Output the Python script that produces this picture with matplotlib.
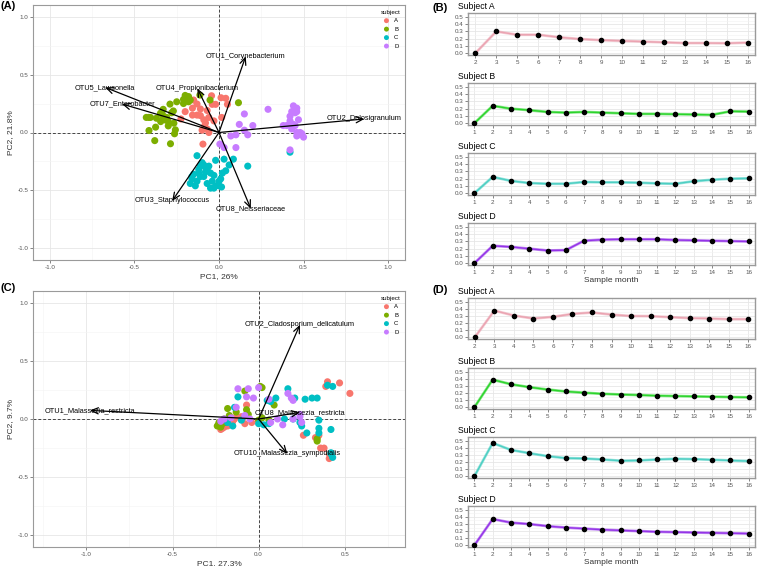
import matplotlib
matplotlib.use("Agg")
import matplotlib.pyplot as plt
from matplotlib.ticker import MultipleLocator
import numpy as np

plt.rcParams.update({
    "font.family": ["Liberation Sans", "DejaVu Sans"],
    "axes.linewidth": 0.8,
    "axes.edgecolor": "#9a9a9a",
    "xtick.color": "#555555",
    "ytick.color": "#555555",
    "xtick.labelcolor": "#555555",
    "ytick.labelcolor": "#555555",
})

W, H = 758, 566
SUBJECTS = ["A", "B", "C", "D"]
PT_COLORS = {"A": "#F8766D", "B": "#7CAE00", "C": "#00BFC4", "D": "#C77CFF"}
LINE_COLORS = {"A": "#EBA3B1", "B": "#2BD42B", "C": "#4CCFC3", "D": "#9433E8"}

# ---- panel A: bacterial PCA ----
bac_A = [(-0.044, 0.317), (0.012, 0.30), (0.04, 0.295), (0.05, 0.243), (-0.02, 0.243),
         (-0.04, 0.243), (-0.11, 0.203), (-0.13, 0.246), (-0.07, 0.19), (-0.157, 0.21),
         (-0.157, 0.15), (-0.2, 0.18), (-0.225, 0.117), (-0.11, 0.146), (-0.06, 0.13),
         (-0.09, 0.11), (-0.08, 0.083), (0.016, 0.13), (-0.10, 0.02), (-0.06, 0.0),
         (-0.095, -0.10), (-0.03, 0.10), (-0.15, 0.28), (-0.07, 0.03), (-0.085, 0.057),
         (-0.13, 0.15)]
bac_B = [(-0.29, 0.245), (-0.25, 0.265), (-0.21, 0.285), (-0.20, 0.32), (-0.18, 0.265),
         (-0.27, 0.186), (-0.33, 0.137), (-0.31, 0.13), (-0.335, 0.157), (-0.37, 0.123),
         (-0.405, 0.13), (-0.415, 0.13), (-0.345, 0.094), (-0.375, 0.046), (-0.414, 0.017),
         (-0.30, 0.057), (-0.258, 0.023), (-0.263, -0.011), (-0.287, -0.097), (-0.38, -0.07),
         (-0.30, 0.094), (-0.113, 0.323), (-0.053, 0.28), (0.115, 0.257), (-0.33, 0.20),
         (-0.21, 0.25), (-0.18, 0.31), (-0.17, 0.28), (-0.346, 0.166), (-0.32, 0.109),
         (-0.267, 0.08), (-0.28, 0.17), (-0.43, 0.13)]
bac_C = [(-0.13, -0.20), (-0.10, -0.26), (-0.09, -0.28), (-0.08, -0.30), (-0.07, -0.32),
         (-0.05, -0.35), (-0.12, -0.32), (-0.15, -0.36), (-0.16, -0.40), (-0.17, -0.44),
         (-0.14, -0.46), (-0.12, -0.35), (-0.11, -0.38), (-0.08, -0.34), (-0.09, -0.38),
         (0.0, -0.42), (0.01, -0.40), (-0.05, -0.48), (-0.03, -0.48), (-0.02, -0.46),
         (-0.04, -0.42), (-0.03, -0.37), (0.02, -0.35), (0.04, -0.33), (0.06, -0.28),
         (0.03, -0.23), (0.085, -0.23), (0.17, -0.29), (0.42, -0.17), (-0.02, -0.24),
         (-0.11, -0.29), (-0.06, -0.29), (-0.13, -0.42), (-0.16, -0.38), (0.0, -0.46),
         (-0.07, -0.44), (0.015, -0.47)]
bac_D = [(0.15, 0.16), (0.12, 0.07), (0.15, 0.02), (0.20, 0.06), (0.10, -0.02),
         (0.17, -0.02), (0.29, 0.20), (0.38, 0.06), (0.40, 0.06), (0.42, 0.10),
         (0.42, 0.14), (0.43, 0.18), (0.44, 0.23), (0.46, 0.21), (0.46, 0.18),
         (0.47, 0.11), (0.44, 0.07), (0.45, 0.06), (0.46, 0.0), (0.47, -0.02),
         (0.48, 0.0), (0.49, -0.01), (0.50, -0.04), (0.46, -0.03), (0.43, 0.03),
         (0.42, -0.15), (0.005, -0.10), (0.10, -0.13), (0.03, -0.13), (0.45, 0.17),
         (0.07, -0.03)]
bac_arrows = ["OTU1_Corynebacterium", "OTU2_Dolosigranulum", "OTU3_Staphylococcus",
              "OTU4_Propionibacterium", "OTU5_Lawsonella", "OTU7_Enterobacter",
              "OTU8_Neisseriaceae"]
bac_arrow_x = [0.158, 0.86, -0.277, -0.128, -0.673, -0.574, 0.188]
bac_arrow_y = [0.657, 0.117, -0.59, 0.38, 0.389, 0.246, -0.657]

# ---- panel C: fungal PCA ----
fun_A = [(0.40, 0.32), (0.39, 0.28), (0.47, 0.31), (0.53, 0.22), (0.26, -0.14),
         (0.33, -0.16), (0.35, -0.14), (0.36, -0.25), (0.38, -0.25), (0.41, -0.34),
         (0.42, -0.32), (0.41, -0.30), (-0.07, 0.12), (-0.10, 0.02), (-0.13, 0.02),
         (-0.15, -0.02), (-0.17, -0.04), (-0.21, -0.08), (-0.22, -0.06), (-0.20, -0.07),
         (-0.18, -0.06), (-0.08, -0.04), (-0.04, -0.03), (0.0, -0.02), (-0.23, -0.05),
         (-0.22, -0.09), (-0.19, -0.04), (-0.14, 0.0)]
fun_B = [(-0.08, 0.24), (0.01, 0.28), (0.02, 0.27), (-0.18, 0.09), (0.09, 0.12),
         (-0.07, 0.08), (-0.06, 0.04), (0.06, -0.01), (0.02, 0.01), (-0.22, -0.06),
         (-0.23, -0.03), (-0.24, -0.06), (-0.21, -0.02), (-0.20, 0.0), (-0.21, -0.04),
         (-0.19, -0.03), (0.34, -0.19), (0.34, -0.17), (-0.17, 0.03), (-0.22, -0.07),
         (-0.23, -0.04), (0.0, -0.01), (-0.13, 0.06)]
fun_C = [(-0.12, 0.19), (-0.14, 0.10), (0.17, 0.26), (0.10, 0.18), (0.05, 0.16),
         (0.07, 0.15), (0.21, 0.18), (0.27, 0.17), (0.31, 0.18), (0.34, 0.18),
         (0.40, 0.29), (0.43, 0.28), (0.15, 0.0), (0.20, 0.0), (0.24, -0.03),
         (0.25, -0.06), (0.28, -0.12), (0.35, -0.01), (0.35, -0.08), (0.42, -0.09),
         (0.42, -0.30), (0.43, -0.33), (0.42, -0.29), (0.06, -0.04), (0.03, -0.05),
         (-0.15, -0.06), (-0.10, -0.01), (-0.18, -0.03), (0.0, -0.04), (0.35, -0.12)]
fun_D = [(-0.06, 0.26), (0.0, 0.27), (-0.12, 0.26), (-0.07, 0.19), (-0.03, 0.18),
         (-0.13, 0.10), (-0.08, 0.03), (-0.20, 0.0), (-0.16, 0.01), (-0.05, 0.0),
         (0.17, 0.22), (0.19, 0.18), (0.20, 0.16), (0.24, 0.04), (0.24, 0.02),
         (0.25, -0.03), (0.14, -0.05), (0.07, -0.03), (0.11, 0.0), (0.20, 0.0),
         (-0.22, -0.02), (0.06, 0.17)]
fun_arrows = ["OTU1_Malassezia_restricta", "OTU2_Cladosporium_delicatulum",
              "OTU8_Malassezia_restricta", "OTU10_Malassezia_sympodialis"]
fun_arrow_x = [-0.98, 0.24, 0.24, 0.167]
fun_arrow_y = [0.074, 0.81, 0.057, -0.30]

# ---- panels B and D: values by sample month ----
months_full = [str(m) for m in range(1, 17)]
bac_months = {"A": ["2", "3"] + [str(m) for m in range(5, 17)],
              "B": months_full, "C": months_full, "D": months_full}
bac_vals = {
    "A": [0.0, 0.30, 0.255, 0.255, 0.22, 0.195, 0.18, 0.17, 0.16, 0.15, 0.14, 0.14, 0.137, 0.146],
    "B": [0.0, 0.24, 0.20, 0.18, 0.155, 0.146, 0.155, 0.146, 0.137, 0.128, 0.128, 0.124,
          0.12, 0.115, 0.164, 0.16],
    "C": [0.0, 0.225, 0.17, 0.14, 0.13, 0.13, 0.155, 0.15, 0.15, 0.145, 0.135, 0.13,
          0.165, 0.185, 0.20, 0.205],
    "D": [0.0, 0.24, 0.225, 0.2, 0.175, 0.18, 0.31, 0.325, 0.33, 0.33, 0.33, 0.32,
          0.315, 0.31, 0.305, 0.30],
}
fun_months = {"A": [str(m) for m in range(2, 17)],
              "B": months_full, "C": months_full, "D": months_full}
fun_vals = {
    "A": [0.0, 0.377, 0.307, 0.265, 0.288, 0.33, 0.35, 0.32, 0.30, 0.298, 0.284, 0.27,
          0.265, 0.256, 0.256],
    "B": [0.0, 0.39, 0.325, 0.284, 0.25, 0.223, 0.205, 0.19, 0.18, 0.172, 0.163, 0.158,
          0.153, 0.149, 0.144, 0.14],
    "C": [0.0, 0.47, 0.372, 0.326, 0.284, 0.256, 0.251, 0.237, 0.219, 0.223, 0.237, 0.246,
          0.242, 0.233, 0.223, 0.214],
    "D": [0.0, 0.37, 0.32, 0.30, 0.27, 0.25, 0.235, 0.22, 0.21, 0.20, 0.19, 0.185,
          0.18, 0.175, 0.17, 0.165],
}


def px_axes(fig, left, top, right, bottom):
    return fig.add_axes([left / W, 1 - bottom / H, (right - left) / W, (bottom - top) / H])


def plot_pca(ax, groups, names, ax_x, ax_y, xlim, xlab, ylab):
    for s, pts in zip(SUBJECTS, groups):
        xy = np.array(pts)
        ax.scatter(xy[:, 0], xy[:, 1], s=26, color=PT_COLORS[s], label=s,
                   edgecolors="none", zorder=3)
    ax.axhline(0, color="#444444", linestyle=(0, (3, 2)), linewidth=0.7, zorder=2)
    ax.axvline(0, color="#444444", linestyle=(0, (3, 2)), linewidth=0.7, zorder=2)
    for name, x, y in zip(names, ax_x, ax_y):
        ax.annotate("", xy=(x, y), xytext=(0, 0),
                    arrowprops=dict(arrowstyle="->,head_length=0.5,head_width=0.22",
                                    color="black", linewidth=0.9, shrinkA=0, shrinkB=0),
                    zorder=4)
        ax.text(x, y, name, fontsize=5.3, ha="center", va="center", zorder=5)
    ax.set_xlim(*xlim)
    ax.set_ylim(-1.1, 1.1)
    ax.xaxis.set_major_locator(MultipleLocator(0.5))
    ax.yaxis.set_major_locator(MultipleLocator(0.5))
    ax.xaxis.set_minor_locator(MultipleLocator(0.25))
    ax.yaxis.set_minor_locator(MultipleLocator(0.25))
    ax.xaxis.set_major_formatter(lambda v, p: f"{v:.1f}")
    ax.yaxis.set_major_formatter(lambda v, p: f"{v:.1f}")
    ax.grid(which="major", color="#e6e6e6", linewidth=0.6, zorder=0)
    ax.grid(which="minor", color="#f3f3f3", linewidth=0.4, zorder=0)
    ax.set_axisbelow(True)
    ax.tick_params(which="both", length=2, width=0.5, labelsize=4.5, pad=1.5)
    ax.tick_params(which="minor", length=0)
    ax.set_xlabel(xlab, fontsize=6, color="#333333", labelpad=2)
    ax.set_ylabel(ylab, fontsize=6, color="#333333", labelpad=2)
    leg = ax.legend(loc="upper right", title="subject", frameon=False, fontsize=4.3,
                    title_fontsize=4.5, handletextpad=0.3, borderaxespad=0.4,
                    labelspacing=0.55, markerscale=0.7)
    leg._legend_box.align = "left"


def plot_series(ax, s, months, vals, title, last):
    x = np.arange(len(months))
    ax.plot(x, vals, color=LINE_COLORS[s], linewidth=2.0, alpha=0.55, zorder=2)
    ax.plot(x, vals, color=LINE_COLORS[s], linewidth=1.0, zorder=3)
    ax.scatter(x, vals, s=9, color="black", zorder=4)
    ax.set_xlim(-0.35, len(months) - 1 + 0.35)
    ax.set_ylim(-0.025, 0.555)
    ax.set_xticks(x)
    ax.set_xticklabels(months)
    ax.yaxis.set_major_locator(MultipleLocator(0.1))
    ax.yaxis.set_minor_locator(MultipleLocator(0.05))
    ax.yaxis.set_major_formatter(lambda v, p: f"{v:.1f}")
    ax.grid(which="major", color="#e6e6e6", linewidth=0.6, zorder=0)
    ax.grid(which="minor", axis="y", color="#f2f2f2", linewidth=0.4, zorder=0)
    ax.set_axisbelow(True)
    ax.tick_params(which="both", length=2, width=0.5, labelsize=4.5, pad=1.5)
    ax.tick_params(which="minor", length=0)
    for sp in ax.spines.values():
        sp.set_linewidth(1.0)
    ax.text(-0.035, 1.04, title, transform=ax.transAxes, fontsize=6.2, ha="left", va="bottom")
    if last:
        ax.set_xlabel("Sample month", fontsize=6, color="#333333", labelpad=1.5)


fig = plt.figure(figsize=(W / 100, H / 100), dpi=100)

axA = px_axes(fig, 33, 5, 405, 260)
plot_pca(axA, [bac_A, bac_B, bac_C, bac_D], bac_arrows, bac_arrow_x, bac_arrow_y,
         (-1.1, 1.1), "PC1, 26%", "PC2, 21.8%")
axC = px_axes(fig, 33, 291, 405, 547)
plot_pca(axC, [fun_A, fun_B, fun_C, fun_D], fun_arrows, fun_arrow_x, fun_arrow_y,
         (-1.31, 0.85), "PC1, 27.3%", "PC2, 9.7%")

b_tops = [13, 83, 153, 223]
d_tops = [298, 368, 437, 506]
for i, s in enumerate(SUBJECTS):
    ax = px_axes(fig, 468, b_tops[i], 755, b_tops[i] + 42)
    plot_series(ax, s, bac_months[s], bac_vals[s], f"Subject {s}", i == 3)
    ax = px_axes(fig, 468, d_tops[i], 755, d_tops[i] + 41)
    plot_series(ax, s, fun_months[s], fun_vals[s], f"Subject {s}", i == 3)

for lbl, x, y in [("(A)", 8, 6), ("(C)", 8, 288), ("(B)", 440, 8), ("(D)", 440, 290)]:
    fig.text(x / W, 1 - y / H, lbl, fontsize=8, fontweight="bold", ha="center", va="center")

fig.savefig("out.png", dpi=100)
